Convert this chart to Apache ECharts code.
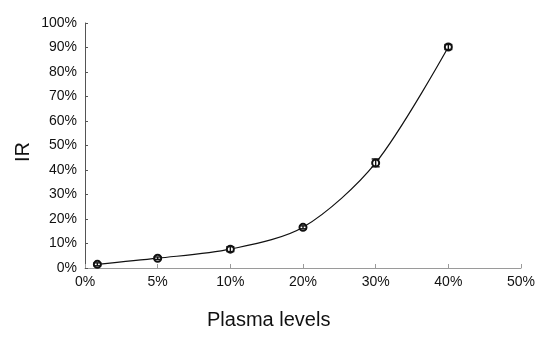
<!DOCTYPE html>
<html>
<head>
<meta charset="utf-8">
<script src="https://cdn.jsdelivr.net/npm/echarts@6/dist/echarts.min.js"></script>
<style>
html,body{margin:0;padding:0;background:#fff;}
#chart{width:559px;height:339px;}
</style>
</head>
<body>
<div id="chart"></div>
<script>
// Data
var xTickLabels = ['0%', '5%', '10%', '20%', '30%', '40%', '50%'];
var yTickLabels = ['0%', '10%', '20%', '30%', '40%', '50%', '60%', '70%', '80%', '90%', '100%'];
var plasmaPositions = [0.17, 1, 2, 3, 4, 5]; // position on the evenly spaced x-axis (index of tick labels)
var irValues = [1.5, 4.0, 7.7, 16.6, 42.9, 90.2];
var irErrors = [0.6, 0.5, 1.0, 0.6, 1.6, 1.0];

var lineData = plasmaPositions.map(function (x, i) { return [x, irValues[i]]; });
var errData = plasmaPositions.map(function (x, i) { return [x, irValues[i] - irErrors[i], irValues[i] + irErrors[i]]; });

var font = 'Liberation Sans, Arial, Helvetica, sans-serif';
var chart = echarts.init(document.getElementById('chart'), null, { renderer: 'canvas' });
chart.setOption({
  animation: false,
  backgroundColor: '#fff',
  grid: { left: 85, right: 38, top: 23, bottom: 71, containLabel: false },
  xAxis: {
    type: 'value', min: 0, max: xTickLabels.length - 1, interval: 1,
    axisLine: { show: true, lineStyle: { color: '#9a9a9a', width: 1 } },
    axisTick: { show: true, inside: true, length: 4, lineStyle: { color: '#9a9a9a' } },
    splitLine: { show: false },
    axisLabel: {
      margin: 7, color: '#111', fontSize: 14, fontFamily: font,
      formatter: function (v) { return xTickLabels[Math.round(v)] || ''; }
    }
  },
  yAxis: {
    type: 'value', min: 0, max: 100, interval: 10,
    axisLine: { show: true, lineStyle: { color: '#555', width: 1 } },
    axisTick: { show: true, inside: true, length: 3, lineStyle: { color: '#555' } },
    splitLine: { show: false },
    axisLabel: {
      margin: 8, color: '#111', fontSize: 14, fontFamily: font,
      formatter: function (v) { return yTickLabels[Math.round(v / 10)]; }
    }
  },
  graphic: [
    { type: 'text', left: 13, top: 142, rotation: Math.PI / 2, style: { text: 'IR', font: '20px ' + font, fill: '#111' } },
    { type: 'text', left: 207, top: 310, style: { text: 'Plasma levels', font: '20px ' + font, fill: '#111' } }
  ],
  series: [
    {
      type: 'line', data: lineData, smooth: 0.3,
      lineStyle: { color: '#111', width: 1.2 },
      symbol: 'emptyCircle', symbolSize: 7,
      itemStyle: { color: '#111', borderColor: '#111', borderWidth: 1.6 },
      z: 3
    },
    {
      type: 'custom', data: errData, z: 4,
      renderItem: function (params, api) {
        var x = api.value(0);
        var lo = api.coord([x, api.value(1)]);
        var hi = api.coord([x, api.value(2)]);
        var w = 4;
        var st = { stroke: '#111', lineWidth: 1.4 };
        return {
          type: 'group', children: [
            { type: 'line', shape: { x1: lo[0], y1: lo[1], x2: hi[0], y2: hi[1] }, style: st },
            { type: 'line', shape: { x1: lo[0] - w, y1: lo[1], x2: lo[0] + w, y2: lo[1] }, style: st },
            { type: 'line', shape: { x1: hi[0] - w, y1: hi[1], x2: hi[0] + w, y2: hi[1] }, style: st }
          ]
        };
      }
    }
  ]
});
</script>
</body>
</html>
